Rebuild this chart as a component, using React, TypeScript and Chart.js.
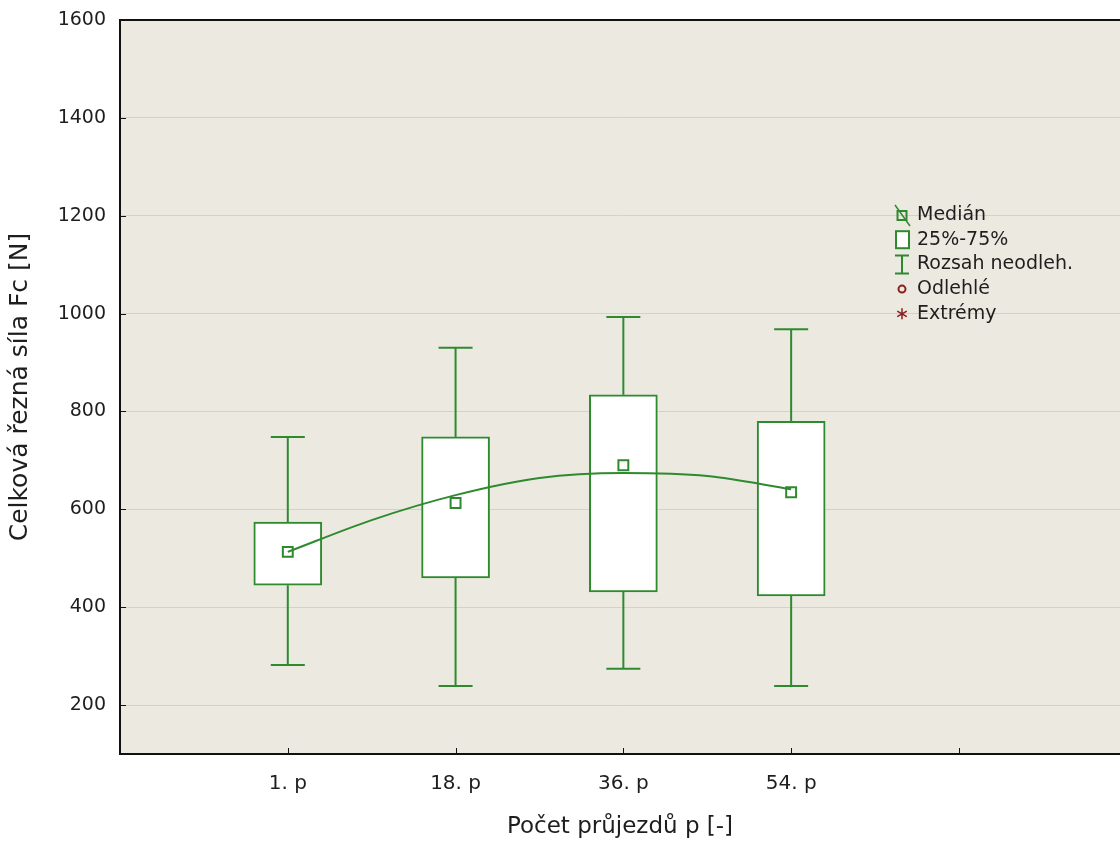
import React, { useEffect, useRef } from 'react';
import { Chart, registerables } from 'chart.js';

Chart.register(...registerables);

const categories = ['1. p', '18. p', '36. p', '54. p'];
const categoryPositions = [1, 2, 3, 4];
const medians = [513, 613, 690, 635];
const q1 = [445, 460, 431, 423];
const q3 = [574, 748, 834, 780];
const whiskerLow = [282, 239, 274, 239];
const whiskerHigh = [748, 930, 993, 968];
const fitX = [1, 1.5, 2, 2.5, 3, 3.5, 4];
const fitY = [513, 578, 629, 664, 674, 668, 641];
const yTicks = [200, 400, 600, 800, 1000, 1200, 1400, 1600];
const xTicks = [1, 2, 3, 4, 5];
const legendLabels = ['Medián', '25%-75%', 'Rozsah neodleh.', 'Odlehlé', 'Extrémy'];

const GREEN = '#2f8a2f';
const DARKRED = '#8b1f1f';
const TEXT = '#1e1e1e';
const FONT = '"DejaVu Sans", "Liberation Sans", sans-serif';

const framePlugin = {
  id: 'frame',
  beforeDraw(chart: any) {
    const { ctx, chartArea: a } = chart;
    ctx.save();
    ctx.fillStyle = '#ebe9e0';
    ctx.fillRect(a.left, a.top, a.right - a.left, a.bottom - a.top);
    ctx.restore();
  },
  afterDraw(chart: any) {
    const { ctx, chartArea: a, scales } = chart;
    ctx.save();
    ctx.strokeStyle = '#111';
    ctx.lineWidth = 2;
    ctx.beginPath();
    ctx.moveTo(a.left, a.top);
    ctx.lineTo(a.right, a.top);
    ctx.stroke();
    ctx.lineWidth = 1;
    yTicks.forEach((v) => {
      const y = Math.round(scales.y.getPixelForValue(v)) + 0.5;
      ctx.beginPath();
      ctx.moveTo(a.left, y);
      ctx.lineTo(a.left + 6, y);
      ctx.stroke();
    });
    xTicks.forEach((v) => {
      const x = Math.round(scales.x.getPixelForValue(v)) + 0.5;
      ctx.beginPath();
      ctx.moveTo(x, a.bottom);
      ctx.lineTo(x, a.bottom - 6);
      ctx.stroke();
    });
    ctx.restore();
  },
};

const legendPlugin = {
  id: 'boxLegend',
  afterDraw(chart: any) {
    const ctx = chart.ctx;
    const sx = 902;
    const tx = 917;
    const y0 = 215;
    const dy = 24.7;
    ctx.save();
    ctx.font = '19px ' + FONT;
    ctx.fillStyle = TEXT;
    ctx.textBaseline = 'middle';
    ctx.textAlign = 'left';
    legendLabels.forEach((t, i) => ctx.fillText(t, tx, y0 + i * dy));

    // Median symbol
    let cy = y0;
    ctx.strokeStyle = GREEN;
    ctx.lineWidth = 1.5;
    ctx.beginPath();
    ctx.moveTo(sx - 7, cy - 10);
    ctx.lineTo(sx + 8, cy + 11);
    ctx.stroke();
    ctx.lineWidth = 2;
    ctx.strokeRect(sx - 4.5, cy - 4, 9, 9);

    // Box symbol
    cy = y0 + dy;
    ctx.fillStyle = '#ffffff';
    ctx.fillRect(sx - 6, cy - 8.5, 13, 17);
    ctx.strokeRect(sx - 6, cy - 8.5, 13, 17);

    // Whisker symbol
    cy = y0 + 2 * dy;
    ctx.beginPath();
    ctx.moveTo(sx - 7, cy - 9);
    ctx.lineTo(sx + 7, cy - 9);
    ctx.moveTo(sx, cy - 9);
    ctx.lineTo(sx, cy + 9);
    ctx.moveTo(sx - 7, cy + 9);
    ctx.lineTo(sx + 7, cy + 9);
    ctx.stroke();

    // Outlier symbol
    cy = y0 + 3 * dy;
    ctx.strokeStyle = DARKRED;
    ctx.beginPath();
    ctx.arc(sx, cy, 3.5, 0, Math.PI * 2);
    ctx.stroke();

    // Extreme symbol
    cy = y0 + 4 * dy;
    ctx.lineWidth = 1.5;
    ctx.beginPath();
    for (let k = 0; k < 3; k++) {
      const ang = Math.PI / 2 + (k * Math.PI) / 3;
      ctx.moveTo(sx + Math.cos(ang) * 5.5, cy + Math.sin(ang) * 5.5);
      ctx.lineTo(sx - Math.cos(ang) * 5.5, cy - Math.sin(ang) * 5.5);
    }
    ctx.stroke();
    ctx.restore();
  },
};

export default function App() {
  const canvasRef = useRef<HTMLCanvasElement | null>(null);

  useEffect(() => {
    if (!canvasRef.current) return;

    const whiskerSets: any[] = [];
    categoryPositions.forEach((x, i) => {
      whiskerSets.push({
        type: 'line',
        data: [
          { x, y: q3[i] },
          { x, y: whiskerHigh[i] },
        ],
        borderColor: GREEN,
        borderWidth: 2,
        pointRadius: 0,
        order: 4,
      });
      whiskerSets.push({
        type: 'line',
        data: [
          { x, y: q1[i] },
          { x, y: whiskerLow[i] },
        ],
        borderColor: GREEN,
        borderWidth: 2,
        pointRadius: 0,
        order: 4,
      });
    });

    const chart = new Chart(canvasRef.current, {
      type: 'bar',
      data: {
        datasets: [
          {
            type: 'bar',
            data: categoryPositions.map((x, i) => ({ x, y: [q1[i], q3[i]] })) as any,
            backgroundColor: '#ffffff',
            borderColor: GREEN,
            borderWidth: 2,
            borderSkipped: false,
            barThickness: 68,
            order: 5,
          } as any,
          ...whiskerSets,
          {
            type: 'line',
            data: [
              ...categoryPositions.map((x, i) => ({ x, y: whiskerHigh[i] })),
              ...categoryPositions.map((x, i) => ({ x, y: whiskerLow[i] })),
            ],
            showLine: false,
            pointStyle: 'line',
            pointRadius: 17,
            pointBorderColor: GREEN,
            pointBorderWidth: 2,
            borderColor: GREEN,
            order: 3,
          } as any,
          {
            type: 'line',
            data: fitX.map((x, i) => ({ x, y: fitY[i] })),
            borderColor: GREEN,
            borderWidth: 2,
            pointRadius: 0,
            cubicInterpolationMode: 'monotone',
            order: 2,
          } as any,
          {
            type: 'line',
            data: categoryPositions.map((x, i) => ({ x, y: medians[i] })),
            showLine: false,
            pointStyle: 'rect',
            pointRadius: 7,
            pointBackgroundColor: 'rgba(255,255,255,0)',
            pointBorderColor: GREEN,
            pointBorderWidth: 2,
            borderColor: GREEN,
            order: 1,
          } as any,
        ],
      },
      options: {
        animation: false,
        responsive: false,
        maintainAspectRatio: false,
        layout: { autoPadding: false, padding: { top: 20, left: 0, right: 0, bottom: 0 } },
        plugins: {
          legend: { display: false },
          tooltip: { enabled: false },
          title: { display: false },
        },
        scales: {
          x: {
            type: 'linear',
            min: 0,
            max: 5.96,
            offset: false,
            afterBuildTicks: (s: any) => {
              s.ticks = xTicks.map((v) => ({ value: v }));
            },
            afterFit: (s: any) => {
              s.height = 87;
              s.paddingLeft = 0;
              s.paddingRight = 0;
            },
            ticks: {
              autoSkip: false,
              maxRotation: 0,
              padding: 18,
              color: TEXT,
              font: { family: FONT, size: 20 },
              callback: (v: any) => {
                const idx = categoryPositions.indexOf(Number(v));
                return idx >= 0 ? categories[idx] : '';
              },
            },
            grid: { display: false, drawTicks: false, offset: false },
            border: { display: true, color: '#111', width: 2 },
            title: {
              display: true,
              text: 'Počet průjezdů p [-]',
              color: TEXT,
              font: { family: FONT, size: 23 },
              padding: { top: 0, bottom: 0 },
            },
          },
          y: {
            type: 'linear',
            min: 100,
            max: 1600,
            afterBuildTicks: (s: any) => {
              s.ticks = yTicks.map((v) => ({ value: v }));
            },
            afterFit: (s: any) => {
              s.width = 120;
              s.paddingTop = 0;
              s.paddingBottom = 0;
            },
            ticks: {
              padding: 14,
              color: TEXT,
              font: { family: FONT, size: 19 },
              callback: (v: any) => String(v),
            },
            grid: { color: '#d3d1c8', lineWidth: 1, drawTicks: false },
            border: { display: true, color: '#111', width: 2 },
            title: {
              display: true,
              text: 'Celková řezná síla Fc [N]',
              color: TEXT,
              font: { family: FONT, size: 25 },
              padding: { top: 5, bottom: 0 },
            },
          },
        },
      } as any,
      plugins: [framePlugin, legendPlugin],
    });

    return () => chart.destroy();
  }, []);

  return (
    <div style={{ position: 'absolute', left: 0, top: 0, width: 1120, height: 841, background: '#ffffff' }}>
      <canvas ref={canvasRef} width={1120} height={841} style={{ display: 'block', width: 1120, height: 841 }} />
    </div>
  );
}
